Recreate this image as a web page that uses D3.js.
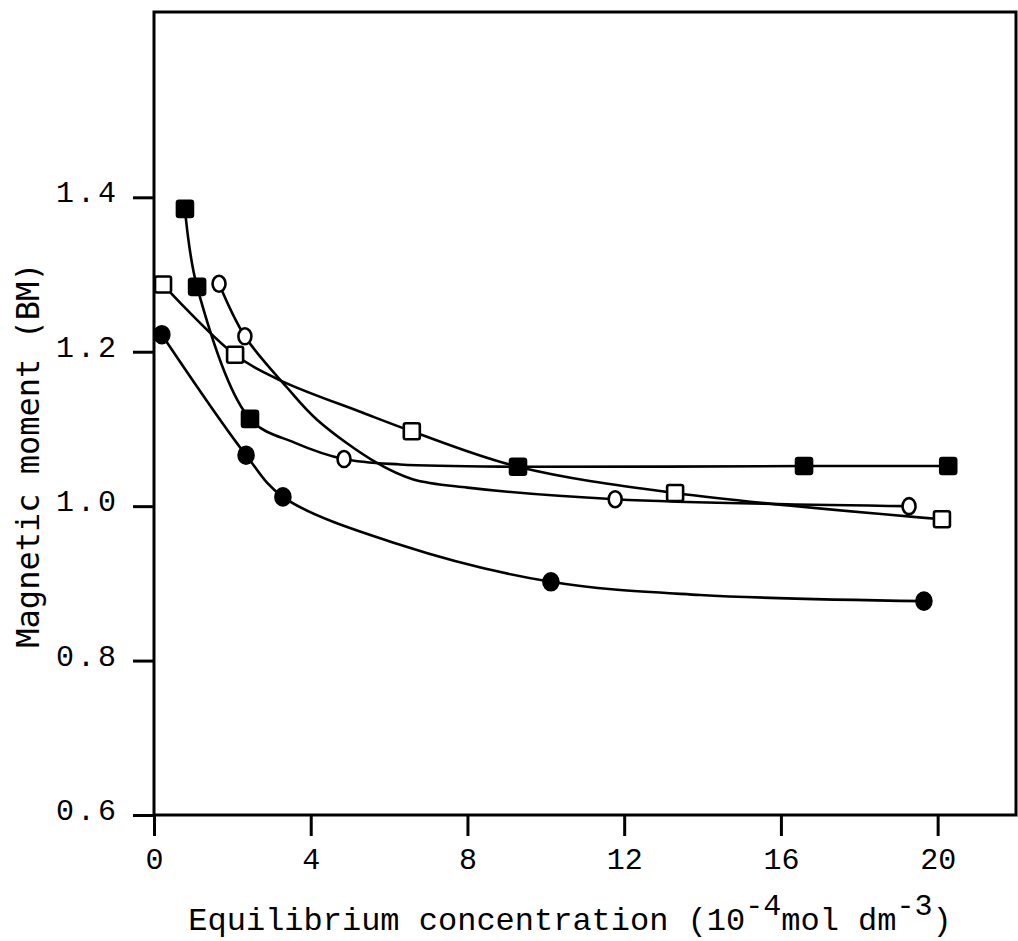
<!DOCTYPE html>
<html>
<head>
<meta charset="utf-8">
<script src="https://cdn.jsdelivr.net/npm/d3@7/dist/d3.min.js"></script>
<style>
  html, body { margin: 0; padding: 0; background: #fff; }
  svg { display: block; }
  .tick-label { font-family: "Liberation Mono", "Courier New", monospace; font-size: 30px; fill: #000; }
  .axis-title { font-family: "Liberation Mono", "Courier New", monospace; font-size: 32px; fill: #000; }
  .y-title { font-family: "DejaVu Sans Mono", monospace; font-size: 32px; fill: #000; }
</style>
</head>
<body>
<script>
// Magnetic moment versus equilibrium concentration, four sample series
const xTicks = [0, 4, 8, 12, 16, 20];
const yTicks = [0.6, 0.8, 1.0, 1.2, 1.4];
const yTickLabels = ["0.6", "0.8", "1.0", "1.2", "1.4"];

// measured points
const filledSquareX = [0.79, 1.10, 2.45, 9.29, 16.59, 20.27];
const filledSquareY = [1.385, 1.284, 1.113, 1.051, 1.052, 1.052];
const openSquareX = [0.23, 2.07, 6.58, 13.30, 20.11];
const openSquareY = [1.287, 1.196, 1.097, 1.017, 0.983];
const openCircleX = [1.66, 2.32, 4.85, 11.77, 19.27];
const openCircleY = [1.288, 1.220, 1.061, 1.009, 1.000];
const filledCircleX = [0.20, 2.35, 3.29, 10.13, 19.65];
const filledCircleY = [1.222, 1.066, 1.012, 0.902, 0.877];

// hand-fitted smooth curves drawn through each set
const filledSquareFitX = [0.79, 1.10, 2.45, 3.60, 4.85, 6.28, 9.29, 16.59, 20.27];
const filledSquareFitY = [1.385, 1.284, 1.113, 1.082, 1.061, 1.054, 1.051, 1.052, 1.052];
const openSquareFitX = [0.23, 2.02, 3.22, 5.33, 6.58, 9.29, 13.30, 20.11];
const openSquareFitY = [1.287, 1.198, 1.163, 1.121, 1.097, 1.051, 1.017, 0.983];
const openCircleFitX = [1.66, 2.32, 3.39, 4.16, 5.69, 6.60, 8.00, 11.77, 19.27];
const openCircleFitY = [1.288, 1.220, 1.154, 1.112, 1.056, 1.035, 1.024, 1.009, 1.000];
const filledCircleFitX = [0.20, 2.35, 3.29, 6.28, 10.13, 13.94, 19.65];
const filledCircleFitY = [1.222, 1.066, 1.012, 0.950, 0.902, 0.885, 0.877];

const W = 1018, H = 941;
const svg = d3.select("body").append("svg").attr("width", W).attr("height", H);

const x = d3.scaleLinear().domain([0, 22]).range([154, 1016]);
const y = d3.scaleLinear().domain([0.6, 1.64]).range([815, 12]);

// plot frame: left/bottom axes plus top and right borders
svg.append("path")
  .attr("d", `M${x(0)},${y(0.6)}V${y(1.64)}H${x(22)}V${y(0.6)}Z`)
  .attr("stroke", "#000").attr("stroke-width", 3).attr("fill", "none");

// x axis
const xAxis = d3.axisBottom(x).tickValues(xTicks).tickSize(21).tickPadding(6).tickFormat(d3.format("d"));
const gx = svg.append("g").attr("transform", `translate(0,${y(0.6)})`).call(xAxis);
gx.select(".domain").remove();
gx.selectAll(".tick line").attr("stroke", "#000").attr("stroke-width", 3);
gx.selectAll(".tick text").attr("class", "tick-label").attr("font-size", null).attr("font-family", null)
  .attr("dy", "0.9em");

// y axis
const yAxis = d3.axisLeft(y).tickValues(yTicks).tickSize(21).tickPadding(14)
  .tickFormat((d, i) => yTickLabels[i]);
const gy = svg.append("g").attr("transform", `translate(${x(0)},0)`).call(yAxis);
gy.select(".domain").remove();
gy.selectAll(".tick line").attr("stroke", "#000").attr("stroke-width", 3);
gy.selectAll(".tick text").attr("class", "tick-label").attr("font-size", null).attr("font-family", null)
  .attr("dy", "0.15em").attr("letter-spacing", 3);

// axis titles
const xt = svg.append("text").attr("class", "axis-title")
  .attr("x", 570).attr("y", 930).attr("text-anchor", "middle");
xt.append("tspan").text("Equilibrium concentration (10");
xt.append("tspan").attr("dy", -15).attr("font-size", 30).text("-4");
xt.append("tspan").attr("dy", 15).text("mol dm");
xt.append("tspan").attr("dy", -15).attr("font-size", 30).text("-3");
xt.append("tspan").attr("dy", 15).text(")");

svg.append("text").attr("class", "y-title")
  .attr("transform", "translate(39,455) rotate(-90)")
  .attr("text-anchor", "middle")
  .text("Magnetic moment (BM)");

// series
const series = [
  { xs: filledSquareX, ys: filledSquareY, fx: filledSquareFitX, fy: filledSquareFitY, shape: "square", fill: "#000" },
  { xs: openSquareX, ys: openSquareY, fx: openSquareFitX, fy: openSquareFitY, shape: "square", fill: "#fff" },
  { xs: openCircleX, ys: openCircleY, fx: openCircleFitX, fy: openCircleFitY, shape: "circle", fill: "#fff" },
  { xs: filledCircleX, ys: filledCircleY, fx: filledCircleFitX, fy: filledCircleFitY, shape: "circle", fill: "#000" }
];

const line = d3.line().x(d => x(d[0])).y(d => y(d[1])).curve(d3.curveCatmullRom.alpha(0.5));

const linesG = svg.append("g");
series.forEach(s => {
  const pts = s.fx.map((v, i) => [v, s.fy[i]]);
  linesG.append("path").datum(pts)
    .attr("d", line).attr("fill", "none").attr("stroke", "#000").attr("stroke-width", 2.6)
    .attr("stroke-linejoin", "round");
});

const marksG = svg.append("g");
series.forEach(s => {
  const pts = s.xs.map((v, i) => [v, s.ys[i]]);
  if (s.shape === "square") {
    marksG.selectAll(null).data(pts).enter().append("rect")
      .attr("x", d => x(d[0]) - 8).attr("y", d => y(d[1]) - 8)
      .attr("width", 16).attr("height", 16).attr("rx", 2)
      .attr("fill", s.fill).attr("stroke", "#000").attr("stroke-width", 2.6);
  } else {
    const filled = s.fill === "#000";
    marksG.selectAll(null).data(pts).enter().append("ellipse")
      .attr("cx", d => x(d[0])).attr("cy", d => y(d[1]))
      .attr("rx", filled ? 7.5 : 6.5).attr("ry", filled ? 8.5 : 8)
      .attr("fill", s.fill).attr("stroke", "#000").attr("stroke-width", 2.6);
  }
});
</script>
</body>
</html>
